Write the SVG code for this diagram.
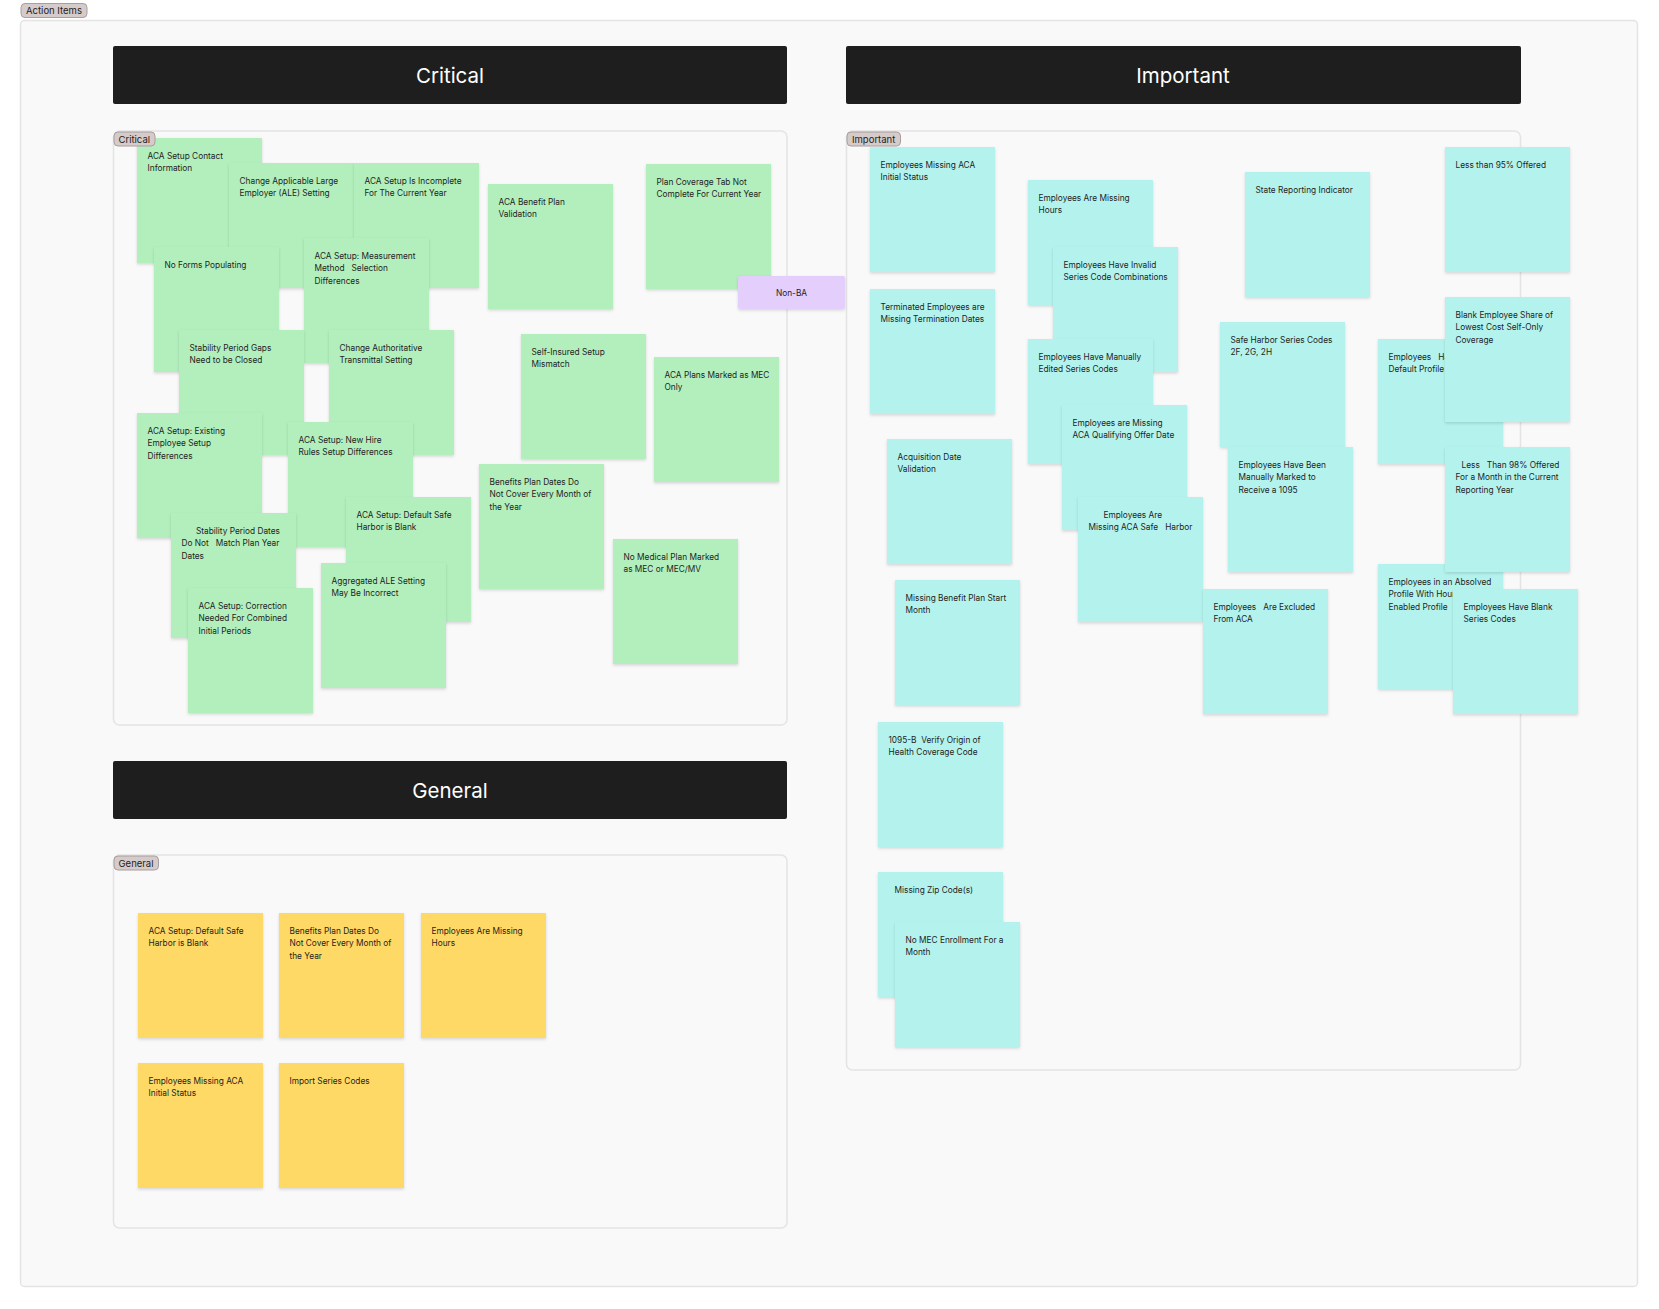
<svg xmlns="http://www.w3.org/2000/svg" width="1659" height="1309" viewBox="0 0 1659 1309">
<style>
.frame{fill:#f9f9f9;stroke:#e4e4e4;stroke-width:1.5}
.pill{fill:#d6cbcb;stroke:#a89e9e;stroke-width:1}
.pt{font-family:Inter,"Liberation Sans",sans-serif;font-size:9.5px;fill:#1e1e1e}
.hdr{fill:#1e1e1e}
.ht{font-family:Inter,"Liberation Sans",sans-serif;font-size:20.5px;fill:#ffffff;text-anchor:middle}
.n{filter:url(#sh)}
.g{fill:#b2efbd}
.c{fill:#b4f3ed}
.y{fill:#fed966}
.p{fill:#e3cefc}
.nt{font-family:Inter,"Liberation Sans",sans-serif;font-size:8.3px;fill:#1e1e1e}
</style>
<defs>
<filter id="sh" x="-10%" y="-10%" width="120%" height="125%">
<feDropShadow dx="0" dy="1.5" stdDeviation="1.5" flood-color="#000" flood-opacity="0.14"/>
</filter>
</defs>
<rect width="1659" height="1309" fill="#ffffff"/>

<g id="frame-action-items">
<rect class="frame" x="20.5" y="20.5" width="1617" height="1266" rx="4"/>
</g>

<g id="header-critical">
<rect class="hdr" x="113" y="46" width="674" height="58" rx="2"/>
<text class="ht" x="450" y="82.5">Critical</text>
</g>
<g id="header-important">
<rect class="hdr" x="846" y="46" width="675" height="58" rx="2"/>
<text class="ht" x="1183" y="82.5">Important</text>
</g>
<g id="header-general">
<rect class="hdr" x="113" y="761" width="674" height="58" rx="2"/>
<text class="ht" x="450" y="797.5">General</text>
</g>

<g id="frame-critical">
<rect class="frame" x="113.5" y="131" width="673.5" height="594" rx="6"/>
</g>
<g id="frame-important">
<rect class="frame" x="846.5" y="131" width="674" height="939" rx="6"/>
</g>
<g id="frame-general">
<rect class="frame" x="113.5" y="855" width="673.5" height="373" rx="6"/>
</g>

<g id="connectors"></g>

<g id="critical-notes">
<g id="c-contact" transform="translate(137,138)"><rect class="n g" width="125" height="125"/><text class="nt" y="20.5"><tspan x="10.5">ACA Setup Contact</tspan><tspan x="10.5" dy="12.6">Information</tspan></text></g>
<g id="c-change-ale" transform="translate(229,163)"><rect class="n g" width="125" height="125"/><text class="nt" y="20.5"><tspan x="10.5">Change Applicable Large</tspan><tspan x="10.5" dy="12.6">Employer (ALE) Setting</tspan></text></g>
<g id="c-incomplete" transform="translate(354,163)"><rect class="n g" width="125" height="125"/><text class="nt" y="20.5"><tspan x="10.5">ACA Setup Is Incomplete</tspan><tspan x="10.5" dy="12.6">For The Current Year</tspan></text></g>
<g id="c-benefit-validation" transform="translate(488,184)"><rect class="n g" width="125" height="125"/><text class="nt" y="20.5"><tspan x="10.5">ACA Benefit Plan</tspan><tspan x="10.5" dy="12.6">Validation</tspan></text></g>
<g id="c-plan-coverage" transform="translate(646,164)"><rect class="n g" width="125" height="125"/><text class="nt" y="20.5"><tspan x="10.5">Plan Coverage Tab Not</tspan><tspan x="10.5" dy="12.6">Complete For Current Year</tspan></text></g>
<g id="c-no-forms" transform="translate(154,247)"><rect class="n g" width="125" height="125"/><text class="nt" y="20.5"><tspan x="10.5">No Forms Populating</tspan></text></g>
<g id="c-measurement" transform="translate(304,238)"><rect class="n g" width="125" height="125"/><text class="nt" y="20.5" xml:space="preserve"><tspan x="10.5">ACA Setup: Measurement</tspan><tspan x="10.5" dy="12.6">Method   Selection</tspan><tspan x="10.5" dy="12.6">Differences</tspan></text></g>
<g id="c-stability-gaps" transform="translate(179,330)"><rect class="n g" width="125" height="125"/><text class="nt" y="20.5"><tspan x="10.5">Stability Period Gaps</tspan><tspan x="10.5" dy="12.6">Need to be Closed</tspan></text></g>
<g id="c-change-auth" transform="translate(329,330)"><rect class="n g" width="125" height="125"/><text class="nt" y="20.5"><tspan x="10.5">Change Authoritative</tspan><tspan x="10.5" dy="12.6">Transmittal Setting</tspan></text></g>
<g id="c-self-insured" transform="translate(521,334)"><rect class="n g" width="125" height="125"/><text class="nt" y="20.5"><tspan x="10.5">Self-Insured Setup</tspan><tspan x="10.5" dy="12.6">Mismatch</tspan></text></g>
<g id="c-mec-only" transform="translate(654,357)"><rect class="n g" width="125" height="125"/><text class="nt" y="20.5"><tspan x="10.5">ACA Plans Marked as MEC</tspan><tspan x="10.5" dy="12.6">Only</tspan></text></g>
<g id="c-existing" transform="translate(137,413)"><rect class="n g" width="125" height="125"/><text class="nt" y="20.5"><tspan x="10.5">ACA Setup: Existing</tspan><tspan x="10.5" dy="12.6">Employee Setup</tspan><tspan x="10.5" dy="12.6">Differences</tspan></text></g>
<g id="c-new-hire" transform="translate(288,422)"><rect class="n g" width="125" height="125"/><text class="nt" y="20.5"><tspan x="10.5">ACA Setup: New Hire</tspan><tspan x="10.5" dy="12.6">Rules Setup Differences</tspan></text></g>
<g id="c-benefit-dates" transform="translate(479,464)"><rect class="n g" width="125" height="125"/><text class="nt" y="20.5"><tspan x="10.5">Benefits Plan Dates Do</tspan><tspan x="10.5" dy="12.6">Not Cover Every Month of</tspan><tspan x="10.5" dy="12.6">the Year</tspan></text></g>
<g id="c-stability-dates" transform="translate(171,513)"><rect class="n g" width="125" height="125"/><text class="nt" y="20.5" xml:space="preserve"><tspan x="25">Stability Period Dates</tspan><tspan x="10.5" dy="12.6">Do Not   Match Plan Year</tspan><tspan x="10.5" dy="12.6">Dates</tspan></text></g>
<g id="c-default-safe" transform="translate(346,497)"><rect class="n g" width="125" height="125"/><text class="nt" y="20.5"><tspan x="10.5">ACA Setup: Default Safe</tspan><tspan x="10.5" dy="12.6">Harbor is Blank</tspan></text></g>
<g id="c-no-medical" transform="translate(613,539)"><rect class="n g" width="125" height="125"/><text class="nt" y="20.5"><tspan x="10.5">No Medical Plan Marked</tspan><tspan x="10.5" dy="12.6">as MEC or MEC/MV</tspan></text></g>
<g id="c-correction" transform="translate(188,588)"><rect class="n g" width="125" height="125"/><text class="nt" y="20.5"><tspan x="10.5">ACA Setup: Correction</tspan><tspan x="10.5" dy="12.6">Needed For Combined</tspan><tspan x="10.5" dy="12.6">Initial Periods</tspan></text></g>
<g id="c-aggregated" transform="translate(321,563)"><rect class="n g" width="125" height="125"/><text class="nt" y="20.5"><tspan x="10.5">Aggregated ALE Setting</tspan><tspan x="10.5" dy="12.6">May Be Incorrect</tspan></text></g>
</g>

<g id="non-ba" transform="translate(738,276)"><rect class="p" width="107" height="33" rx="2" filter="url(#sh)"/><text class="nt" x="53.5" y="19.5" text-anchor="middle">Non-BA</text></g>

<g id="important-notes">
<g id="i-initial-status" transform="translate(870,147)"><rect class="n c" width="125" height="125"/><text class="nt" y="20.5"><tspan x="10.5">Employees Missing ACA</tspan><tspan x="10.5" dy="12.6">Initial Status</tspan></text></g>
<g id="i-missing-hours" transform="translate(1028,180)"><rect class="n c" width="125" height="125"/><text class="nt" y="20.5"><tspan x="10.5">Employees Are Missing</tspan><tspan x="10.5" dy="12.6">Hours</tspan></text></g>
<g id="i-state" transform="translate(1245,172)"><rect class="n c" width="125" height="125"/><text class="nt" y="20.5"><tspan x="10.5">State Reporting Indicator</tspan></text></g>
<g id="i-less95" transform="translate(1445,147)"><rect class="n c" width="125" height="125"/><text class="nt" y="20.5"><tspan x="10.5">Less than 95% Offered</tspan></text></g>
<g id="i-invalid" transform="translate(1053,247)"><rect class="n c" width="125" height="125"/><text class="nt" y="20.5"><tspan x="10.5">Employees Have Invalid</tspan><tspan x="10.5" dy="12.6">Series Code Combinations</tspan></text></g>
<g id="i-terminated" transform="translate(870,289)"><rect class="n c" width="125" height="125"/><text class="nt" y="20.5"><tspan x="10.5">Terminated Employees are</tspan><tspan x="10.5" dy="12.6">Missing Termination Dates</tspan></text></g>
<g id="i-default-profile" transform="translate(1378,339)"><rect class="n c" width="125" height="125"/><text class="nt" y="20.5" xml:space="preserve"><tspan x="10.5">Employees   Have Hours in a</tspan><tspan x="10.5" dy="12.6">Default Profile</tspan></text></g>
<g id="i-blank-share" transform="translate(1445,297)"><rect class="n c" width="125" height="125"/><text class="nt" y="20.5"><tspan x="10.5">Blank Employee Share of</tspan><tspan x="10.5" dy="12.6">Lowest Cost Self-Only</tspan><tspan x="10.5" dy="12.6">Coverage</tspan></text></g>
<g id="i-safe-harbor-codes" transform="translate(1220,322)"><rect class="n c" width="125" height="125"/><text class="nt" y="20.5"><tspan x="10.5">Safe Harbor Series Codes</tspan><tspan x="10.5" dy="12.6">2F, 2G, 2H</tspan></text></g>
<g id="i-manually-edited" transform="translate(1028,339)"><rect class="n c" width="125" height="125"/><text class="nt" y="20.5"><tspan x="10.5">Employees Have Manually</tspan><tspan x="10.5" dy="12.6">Edited Series Codes</tspan></text></g>
<g id="i-qualifying" transform="translate(1062,405)"><rect class="n c" width="125" height="125"/><text class="nt" y="20.5"><tspan x="10.5">Employees are Missing</tspan><tspan x="10.5" dy="12.6">ACA Qualifying Offer Date</tspan></text></g>
<g id="i-acquisition" transform="translate(887,439)"><rect class="n c" width="125" height="125"/><text class="nt" y="20.5"><tspan x="10.5">Acquisition Date</tspan><tspan x="10.5" dy="12.6">Validation</tspan></text></g>
<g id="i-marked-1095" transform="translate(1228,447)"><rect class="n c" width="125" height="125"/><text class="nt" y="20.5"><tspan x="10.5">Employees Have Been</tspan><tspan x="10.5" dy="12.6">Manually Marked to</tspan><tspan x="10.5" dy="12.6">Receive a 1095</tspan></text></g>
<g id="i-absolved" transform="translate(1378,564)"><rect class="n c" width="125" height="125"/><text class="nt" y="20.5"><tspan x="10.5">Employees in an Absolved</tspan><tspan x="10.5" dy="12.6">Profile With Hours in a Hours</tspan><tspan x="10.5" dy="12.6">Enabled Profile</tspan></text></g>
<g id="i-less98" transform="translate(1445,447)"><rect class="n c" width="125" height="125"/><text class="nt" y="20.5" xml:space="preserve"><tspan x="16.5">Less   Than 98% Offered</tspan><tspan x="10.5" dy="12.6">For a Month in the Current</tspan><tspan x="10.5" dy="12.6">Reporting Year</tspan></text></g>
<g id="i-safe-harbor-missing" transform="translate(1078,497)"><rect class="n c" width="125" height="125"/><text class="nt" y="20.5" xml:space="preserve"><tspan x="25.5">Employees Are</tspan><tspan x="10.5" dy="12.6">Missing ACA Safe   Harbor</tspan></text></g>
<g id="i-benefit-start" transform="translate(895,580)"><rect class="n c" width="125" height="125"/><text class="nt" y="20.5"><tspan x="10.5">Missing Benefit Plan Start</tspan><tspan x="10.5" dy="12.6">Month</tspan></text></g>
<g id="i-excluded" transform="translate(1203,589)"><rect class="n c" width="125" height="125"/><text class="nt" y="20.5" xml:space="preserve"><tspan x="10.5">Employees   Are Excluded</tspan><tspan x="10.5" dy="12.6">From ACA</tspan></text></g>
<g id="i-blank-series" transform="translate(1453,589)"><rect class="n c" width="125" height="125"/><text class="nt" y="20.5"><tspan x="10.5">Employees Have Blank</tspan><tspan x="10.5" dy="12.6">Series Codes</tspan></text></g>
<g id="i-1095b" transform="translate(878,722)"><rect class="n c" width="125" height="125"/><text class="nt" y="20.5" xml:space="preserve"><tspan x="10.5">1095-B  Verify Origin of</tspan><tspan x="10.5" dy="12.6">Health Coverage Code</tspan></text></g>
<g id="i-zip" transform="translate(878,872)"><rect class="n c" width="125" height="125"/><text class="nt" y="20.5"><tspan x="16.5">Missing Zip Code(s)</tspan></text></g>
<g id="i-no-mec" transform="translate(895,922)"><rect class="n c" width="125" height="125"/><text class="nt" y="20.5"><tspan x="10.5">No MEC Enrollment For a</tspan><tspan x="10.5" dy="12.6">Month</tspan></text></g>
</g>

<g id="general-notes">
<g id="g-default-safe" transform="translate(138,913)"><rect class="n y" width="125" height="125"/><text class="nt" y="20.5"><tspan x="10.5">ACA Setup: Default Safe</tspan><tspan x="10.5" dy="12.6">Harbor is Blank</tspan></text></g>
<g id="g-benefit-dates" transform="translate(279,913)"><rect class="n y" width="125" height="125"/><text class="nt" y="20.5"><tspan x="10.5">Benefits Plan Dates Do</tspan><tspan x="10.5" dy="12.6">Not Cover Every Month of</tspan><tspan x="10.5" dy="12.6">the Year</tspan></text></g>
<g id="g-missing-hours" transform="translate(421,913)"><rect class="n y" width="125" height="125"/><text class="nt" y="20.5"><tspan x="10.5">Employees Are Missing</tspan><tspan x="10.5" dy="12.6">Hours</tspan></text></g>
<g id="g-initial-status" transform="translate(138,1063)"><rect class="n y" width="125" height="125"/><text class="nt" y="20.5"><tspan x="10.5">Employees Missing ACA</tspan><tspan x="10.5" dy="12.6">Initial Status</tspan></text></g>
<g id="g-import-series" transform="translate(279,1063)"><rect class="n y" width="125" height="125"/><text class="nt" y="20.5"><tspan x="10.5">Import Series Codes</tspan></text></g>
</g>

<g id="frame-labels">
<g id="label-action-items"><rect class="pill" x="21" y="3.5" width="66" height="14" rx="4"/><text class="pt" x="26" y="14.3">Action Items</text></g>
<g id="label-critical"><rect class="pill" x="114" y="132" width="41" height="14" rx="4"/><text class="pt" x="118.5" y="142.8">Critical</text></g>
<g id="label-important"><rect class="pill" x="847" y="132" width="53.5" height="14" rx="4"/><text class="pt" x="852" y="142.8">Important</text></g>
<g id="label-general"><rect class="pill" x="114" y="856" width="44.5" height="14" rx="4"/><text class="pt" x="118.5" y="866.8">General</text></g>
</g>
</svg>
